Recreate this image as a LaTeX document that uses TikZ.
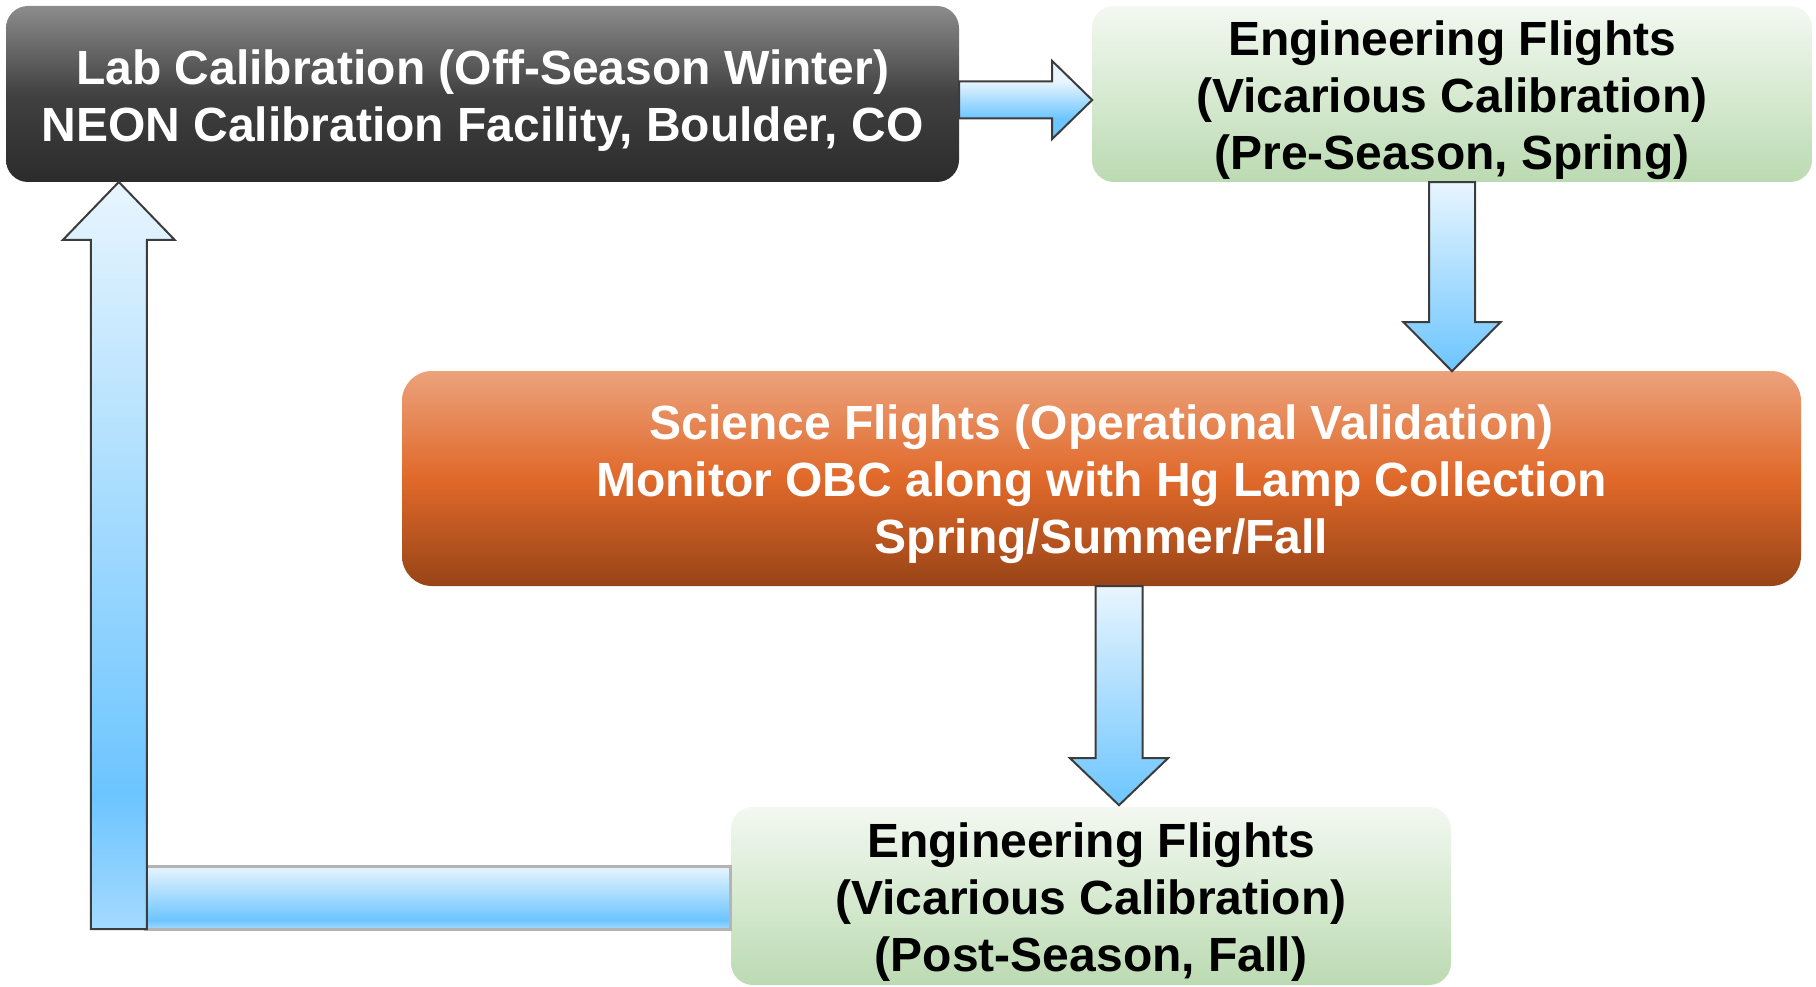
\documentclass[tikz,border=0pt]{standalone}
\usepackage{fontspec}
\setmainfont{Liberation Sans}
\usetikzlibrary{calc}
\definecolor{bluelt}{HTML}{E8F5FE}
\definecolor{bluedk}{HTML}{6CC5FF}
\definecolor{bluemd}{HTML}{A4DAFF}
\definecolor{arrowgray}{HTML}{3C3C3C}
\definecolor{bargray}{HTML}{B4B4B4}
\definecolor{darktop}{HTML}{8C8C8C}
\definecolor{darkmid}{HTML}{414141}
\definecolor{darkbot}{HTML}{2B2B2B}
\definecolor{greentop}{HTML}{F3F8F1}
\definecolor{greenmid}{HTML}{D7EAD1}
\definecolor{greenbot}{HTML}{BBDAB2}
\definecolor{orangetop}{HTML}{ECA27C}
\definecolor{orangemid}{HTML}{E0692A}
\definecolor{orangebot}{HTML}{984417}
\pgfdeclareverticalshading{bluev}{100bp}{color(0bp)=(bluedk); color(25bp)=(bluedk); color(75bp)=(bluelt); color(100bp)=(bluelt)}
\pgfdeclareverticalshading{bluevs}{100bp}{color(0bp)=(bluedk); color(38bp)=(bluedk); color(62bp)=(bluelt); color(100bp)=(bluelt)}
\pgfdeclareverticalshading{bluevret}{100bp}{color(0bp)=(bluemd); color(25bp)=(bluemd); color(34bp)=(bluedk); color(75bp)=(bluelt); color(100bp)=(bluelt)}
\pgfdeclareverticalshading{bluebar}{100bp}{color(0bp)=(bluemd); color(25bp)=(bluemd); color(32bp)=(bluedk); color(75bp)=(bluelt); color(100bp)=(bluelt)}
\newcommand\topstrut{\rule{0pt}{47pt}}
\begin{document}
\begin{tikzpicture}[x=1pt,y=-1pt,
  box/.style={rounded corners=22pt, inner sep=0pt, align=center,
    font=\fontsize{48}{57}\selectfont\bfseries},
  darkbox/.style={box, top color=darktop, bottom color=darkbot, middle color=darkmid, text=white},
  greenbox/.style={box, top color=greentop, bottom color=greenbot, middle color=greenmid, text=black},
  orangebox/.style={box, rounded corners=30pt, top color=orangetop, bottom color=orangebot, middle color=orangemid, text=white},
  barrow/.style={draw=arrowgray, line width=2pt, line join=miter},
  hbar/.style={draw=bargray, line width=3pt, shading=bluebar}
]
\useasboundingbox (0,0) rectangle (1816,987);

\node[darkbox, minimum width=953pt, minimum height=176pt] (lab) at (482.5,94)
  {\topstrut Lab Calibration (Off-Season Winter)\\NEON Calibration Facility, Boulder, CO};
\node[greenbox, minimum width=720pt, minimum height=176pt] (engA) at (1452,94)
  {\topstrut Engineering Flights\\(Vicarious Calibration)\\(Pre-Season, Spring)};
\node[orangebox, minimum width=1399pt, minimum height=215pt] (sci) at (1101.5,478.5)
  {\topstrut Science Flights (Operational Validation)\\Monitor OBC along with Hg Lamp Collection\\Spring/Summer/Fall};
\node[greenbox, minimum width=720pt, minimum height=178pt] (engB) at (1091,896)
  {\topstrut Engineering Flights\\(Vicarious Calibration)\\(Post-Season, Fall)};

% lab -> engA
\draw[barrow, shading=bluevs] ($(lab.east)+(0,-12.5)$) -- ++(93,0) -- ++(0,-20.5)
  -- ++(40,39) -- ++(-40,39) -- ++(0,-20.5) -- ++(-93,0) -- cycle;
% engA -> sci
\draw[barrow, shading=bluev] ($(engA.south)+(-23,0)$) -- ++(0,140) -- ++(-25.5,0)
  -- ++(48.5,49) -- ++(48.5,-49) -- ++(-25.5,0) -- ++(0,-140) -- cycle;
% sci -> engB
\draw[barrow, shading=bluev] ($(sci.south)+(-6,0)$) -- ++(0,172) -- ++(-25.5,0)
  -- ++(49,47) -- ++(49,-47) -- ++(-25.5,0) -- ++(0,-172) -- cycle;
% engB -> lab (return)
\coordinate (rt) at ($(lab.south west)+(113,0)$);
\coordinate (rc) at (rt |- engB.west);
\draw[hbar] ($(engB.west)+(0,-30)$) rectangle ($(rc)+(27,33)$);
\draw[barrow, shading=bluevret] ($(rc)+(-28,33)$) -- ++(0,-689) -- ++(-28,0)
  -- ++(56,-58) -- ++(56,58) -- ++(-28,0) -- ++(0,689) -- cycle;
\end{tikzpicture}
\end{document}
